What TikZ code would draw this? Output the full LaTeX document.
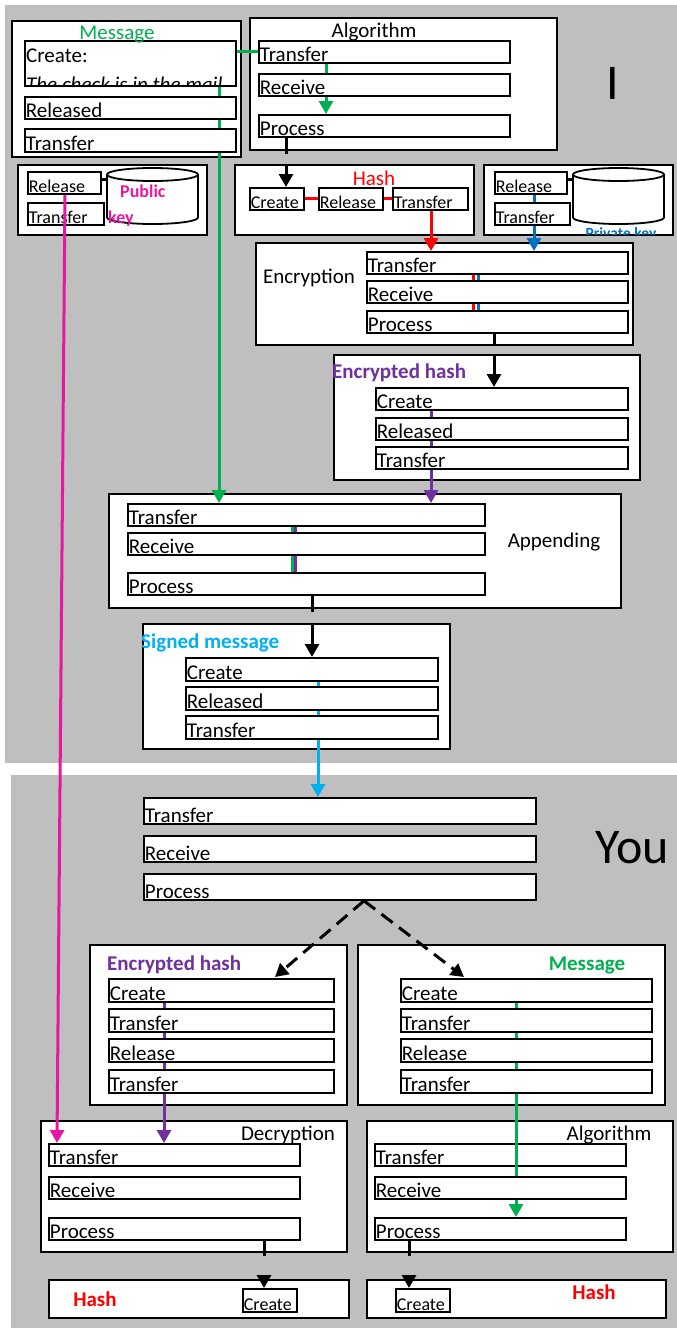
\documentclass[tikz,border=0pt]{standalone}
\usepackage{fontspec}
\setmainfont{Carlito}
\usetikzlibrary{arrows.meta}

\definecolor{bggray}{RGB}{191,191,191}
\definecolor{msggreen}{RGB}{0,176,80}
\definecolor{hashred}{RGB}{255,0,0}
\definecolor{keyblue}{RGB}{0,112,192}
\definecolor{keymag}{RGB}{228,24,162}
\definecolor{ehpurple}{RGB}{112,48,160}
\definecolor{sigcyan}{RGB}{0,176,240}

\newcommand{\rowfnt}{\fontsize{21}{24}\selectfont}
\newcommand{\smallfnt}{\fontsize{18}{21}\selectfont}
\newcommand{\keyfnt}{\fontsize{15.5}{18}\selectfont}
\newcommand{\bigfnt}{\fontsize{50}{56}\selectfont}

\pgfdeclarelayer{bg}
\pgfdeclarelayer{back}
\pgfsetlayers{bg,back,main}

\tikzset{
	panel/.style 2 args={draw, line width=1.8pt, fill=white, anchor=north west,
		inner sep=0pt, minimum width=#1pt, minimum height=#2pt},
	row/.style 2 args={draw, line width=1.8pt, fill=white, anchor=north west,
		inner xsep=1pt, inner ysep=0pt, align=left, text width=#1pt,
		text height=#2pt, text depth=1pt, font=\rowfnt},
	srow/.style 2 args={row={#1}{#2}, font=\smallfnt},
	lbl/.style={anchor=base, inner sep=0pt, font=\rowfnt},
	blbl/.style={lbl, font=\bfseries\rowfnt},
	dbline/.style={line width=1.8pt, fill=white},
	conn/.style={line width=3pt},
	tip/.style={-{Triangle[width=14pt,length=13pt]}},
}

\begin{document}
\begin{tikzpicture}[x=1pt, y=-1pt]
	\useasboundingbox (0,0) rectangle (677,1328);
	\begin{pgfonlayer}{bg}
	%background
	\fill[bggray] (5,5) rectangle (677,763);
	\fill[bggray] (11,775) rectangle (677,1328);
	%panels I
	\node[panel={229}{136}] (msgBox) at (11,20) {};
	\node[panel={307}{132}] (algBox) at (249,17) {};
	\node[panel={189}{70}] (pubBox) at (17,164) {};
	\node[panel={239}{70}] (hashBox) at (234,164) {};
	\node[panel={189}{70}] (privBox) at (483,164) {};
	\node[panel={377}{102}] (encBox) at (255,242) {};
	\node[panel={306}{125}] (ehBox) at (333,354) {};
	\node[panel={512}{114}] (appBox) at (108,493) {};
	\node[panel={307}{125}] (sigBox) at (142,623) {};
	%panels You
	\node[panel={257}{160}] (yehBox) at (89,944) {};
	\node[panel={307}{160}] (ymsgBox) at (357,944) {};
	\node[panel={306}{131}] (decBox) at (40,1120) {};
	\node[panel={306}{131}] (yalgBox) at (366,1120) {};
	\node[panel={300}{38}] (yhashL) at (48,1279) {};
	\node[panel={299}{38}] (yhashR) at (366,1279) {};
	\node[row={249}{21}] (a2T) at (374,1143) {Transfer};
	\end{pgfonlayer}
	
	%key stores
	\foreach \cx/\nm in {152.5/pubDb, 618.5/privDb}{
		\draw[dbline] (\cx-45.5,174.5) -- (\cx-45.5,217.5)
			arc[start angle=180, end angle=360, x radius=45.5pt, y radius=6.5pt]
			-- (\cx+45.5,174.5);
		\draw[dbline] (\cx,174.5) ellipse [x radius=45.5pt, y radius=6.5pt];
		\coordinate (\nm) at (\cx-45.5,179);
	}
	
	%rows I
	\node[row={209}{44}] (mCreate) at (24,40) {};
	\node[row={209}{21}] (mRel) at (24,96) {Released};
	\node[row={209}{22}] (mTr) at (24,128) {Transfer};
	\foreach \nm/\txt/\yy in {algT/Transfer/40, algR/Receive/73, algP/Process/114}
	\node[row={249}{21}] (\nm) at (258,\yy) {\txt};
	\node[srow={71}{21}] (pubRel) at (27,171) {Release};
	\node[srow={74}{21}] (pubTr) at (27,202) {Transfer};
	\node[srow={52}{21}] (hC) at (249,187) {Create};
	\node[srow={62}{21}] (hR) at (318,187) {Release};
	\node[srow={73}{21}] (hT) at (392,187) {Transfer};
	\node[srow={70}{21}] (privRel) at (494,171) {Release};
	\node[srow={73}{21}] (privTr) at (494,202) {Transfer};
	\foreach \nm/\txt/\yy in {encT/Transfer/251, encR/Receive/280, encP/Process/310}
	\node[row={259}{21}] (\nm) at (366,\yy) {\txt};
	\foreach \nm/\txt/\yy in {ehC/Create/387, ehR/Released/417, ehT/Transfer/446}
	\node[row={250}{21}] (\nm) at (375,\yy) {\txt};
	\foreach \nm/\txt/\yy in {apT/Transfer/503, apR/Receive/532, apP/Process/572}
	\node[row={355}{21}] (\nm) at (127,\yy) {\txt};
	\foreach \nm/\txt/\yy in {sgC/Create/657, sgR/Released/686, sgT/Transfer/715}
	\node[row={250}{22}] (\nm) at (185,\yy) {\txt};
	
	%rows You
	\foreach \nm/\txt/\yy in {yT/Transfer/797, yR/Receive/835, yP/Process/873}
	\node[row={390}{25}] (\nm) at (143,\yy) {\txt};
	\foreach \nm/\txt/\yy in {C/Create/978, T/Transfer/1008, R/Release/1038, U/Transfer/1069}{
		\node[row={223}{22}] (bh\nm) at (108,\yy) {\txt};
		\node[row={249}{22}] (bm\nm) at (400,\yy) {\txt};
	}
	\foreach \nm/\txt/\yy in {T/Transfer/1143, R/Receive/1176, P/Process/1217}
	\node[row={249}{21}] (dc\nm) at (48,\yy) {\txt};
	\foreach \nm/\txt/\yy in {R/Receive/1176, P/Process/1217}
	\node[row={249}{21}] (a2\nm) at (374,\yy) {\txt};
	\node[srow={52}{22}] (hlC) at (242,1288) {Create};
	\node[srow={52}{22}] (hrC) at (395,1288) {Create};
	
	%message text
	\begin{scope}
		\clip ([shift={(1pt,-1pt)}]mCreate.north west) rectangle ([shift={(-1pt,1pt)}]mCreate.south east);
		\node[anchor=base west, inner sep=0pt, font=\rowfnt] (mCreateHd) at (26,62) {Create:};
		\node[anchor=base west, inner sep=0pt, font=\rowfnt\itshape] (mCreateIt) at (26,91) {The check is in the mail};
	\end{scope}
	
	%labels
	\node[lbl, text=msggreen] (msgLbl) at (117,39) {Message};
	\node[lbl] (algLbl) at (374,37) {Algorithm};
	\node[lbl, font=\bigfnt] (meLbl) at (613,99) {I};
	\node[lbl, text=hashred] (hashLbl) at (374,185) {Hash};
	\node[blbl, anchor=base west, font=\bfseries\smallfnt, text=keymag] (pubLbl) at (120,197) {Public};
	\node[blbl, anchor=base west, font=\bfseries\smallfnt, text=keymag] (pubLblB) at (108,223) {key};
	\begin{scope}
		\clip ([yshift=1pt]privBox.south west) rectangle (privBox.north east);
		\node[blbl, font=\bfseries\keyfnt, text=keyblue] (privLbl) at (621,238) {Private key};
	\end{scope}
	\node[lbl] (encLbl) at (309,283) {Encryption};
	\node[blbl, anchor=base west, text=ehpurple] (ehLbl) at (332,378) {Encrypted hash};
	\node[lbl] (appLbl) at (554,547) {Appending};
	\node[blbl, anchor=base west, text=sigcyan] (sigLbl) at (141,648) {Signed message};
	\node[lbl, font=\bigfnt] (youLbl) at (632,863) {You};
	\node[blbl, anchor=base west, text=ehpurple] (yehLbl) at (107,970) {Encrypted hash};
	\node[blbl, text=msggreen] (ymsgLbl) at (587,970) {Message};
	\node[lbl] (decLbl) at (288,1140) {Decryption};
	\node[lbl] (yalgLbl) at (609,1140) {Algorithm};
	\node[blbl, text=hashred] (yhashLLbl) at (95,1306) {Hash};
	\node[blbl, text=hashred] (yhashRLbl) at (594,1299) {Hash};
	
	%connectors behind the rows
	\begin{pgfonlayer}{back}
	\draw[conn, msggreen, tip] ([xshift=195pt]mCreate.south west) -- ([xshift=92pt]apT.north west);
	\draw[conn, msggreen, tip] ([xshift=68pt]algT.south west) -- ([xshift=68pt]algP.north west);
	\draw[conn, keyblue, tip] ([xshift=40pt]privRel.south west) -- ([xshift=168pt]encT.north west);
	\draw[conn, hashred] ([xshift=107pt]encT.south west) -- ([xshift=107pt]encP.north west);
	\draw[conn, keyblue] ([xshift=112pt]encT.south west) -- ([xshift=112pt]encP.north west);
	\draw[conn, ehpurple, tip] ([xshift=56pt]ehC.south west) -- ([xshift=304pt]apT.north west);
	\draw[conn, msggreen] ([xshift=165pt]apT.south west) -- ([xshift=165pt]apP.north west);
	\draw[conn, ehpurple] ([xshift=168pt]apT.south west) -- ([xshift=168pt]apP.north west);
	\draw[conn, sigcyan, tip] ([xshift=133pt]sgC.south west) -- ([xshift=175pt]yT.north west);
	\draw[conn, ehpurple, tip] ([xshift=56pt]bhC.south west) -- ([xshift=116pt]dcT.north west);
	\draw[conn, msggreen, tip] ([xshift=116pt]bmC.south west) -- ([xshift=142pt]a2P.north west);
	\end{pgfonlayer}
	
	%connectors on top
	\draw[conn, msggreen] (algT.west -| mCreate.east) -- (algT.west);
	\draw[conn] ([xshift=28pt]algP.south west) -- ([xshift=37pt,yshift=-3pt]algBox.south west);
	\draw[conn, tip] ([xshift=52pt]hashBox.north west) -- ([xshift=37pt]hC.north west);
	\draw[conn, hashred] (hC.east) -- (hR.west);
	\draw[conn, hashred] (hR.east) -- (hT.west);
	\draw[conn, hashred, tip] ([xshift=39pt]hT.south west) -- ([xshift=65pt]encT.north west);
	\draw[conn] (pubRel.east |- pubDb) -- (pubDb);
	\draw[conn] (privRel.east |- privDb) -- (privDb);
	\draw[conn] ([xshift=128pt]encP.south west) -- ([xshift=239pt]encBox.south west);
	\draw[conn, tip] ([xshift=161pt]ehBox.north west) -- ([xshift=119pt]ehC.north west);
	\draw[conn] ([xshift=185pt]apP.south west) -- ([xshift=204pt,yshift=-3pt]appBox.south west);
	\draw[conn, tip] ([xshift=170pt]sigBox.north west) -- ([xshift=127pt]sgC.north west);
	\draw[conn, keymag, tip] ([xshift=38pt]pubRel.south west) -- ([xshift=9pt]dcT.north west);
	%split
	\coordinate (fork) at ([xshift=221pt]yP.south west);
	\coordinate (forkL) at ([xshift=167pt,yshift=1pt]bhC.north west);
	\coordinate (forkR) at ([xshift=64pt,yshift=1pt]bmC.north west);
	\draw[conn, dash pattern=on 14pt off 8pt, tip] (fork) -- (forkL);
	\draw[conn, dash pattern=on 14pt off 8pt, tip] (fork) -- (forkR);
	\draw[conn] ([xshift=216pt]dcP.south west) -- ([xshift=224pt,yshift=-3pt]decBox.south west);
	\draw[conn, tip] ([xshift=216pt]yhashL.north west) -- ([xshift=22pt]hlC.north west);
	\draw[conn] ([xshift=35pt]a2P.south west) -- ([xshift=43pt,yshift=-3pt]yalgBox.south west);
	\draw[conn, tip] ([xshift=43pt]yhashR.north west) -- ([xshift=14pt]hrC.north west);
\end{tikzpicture}
\end{document}
